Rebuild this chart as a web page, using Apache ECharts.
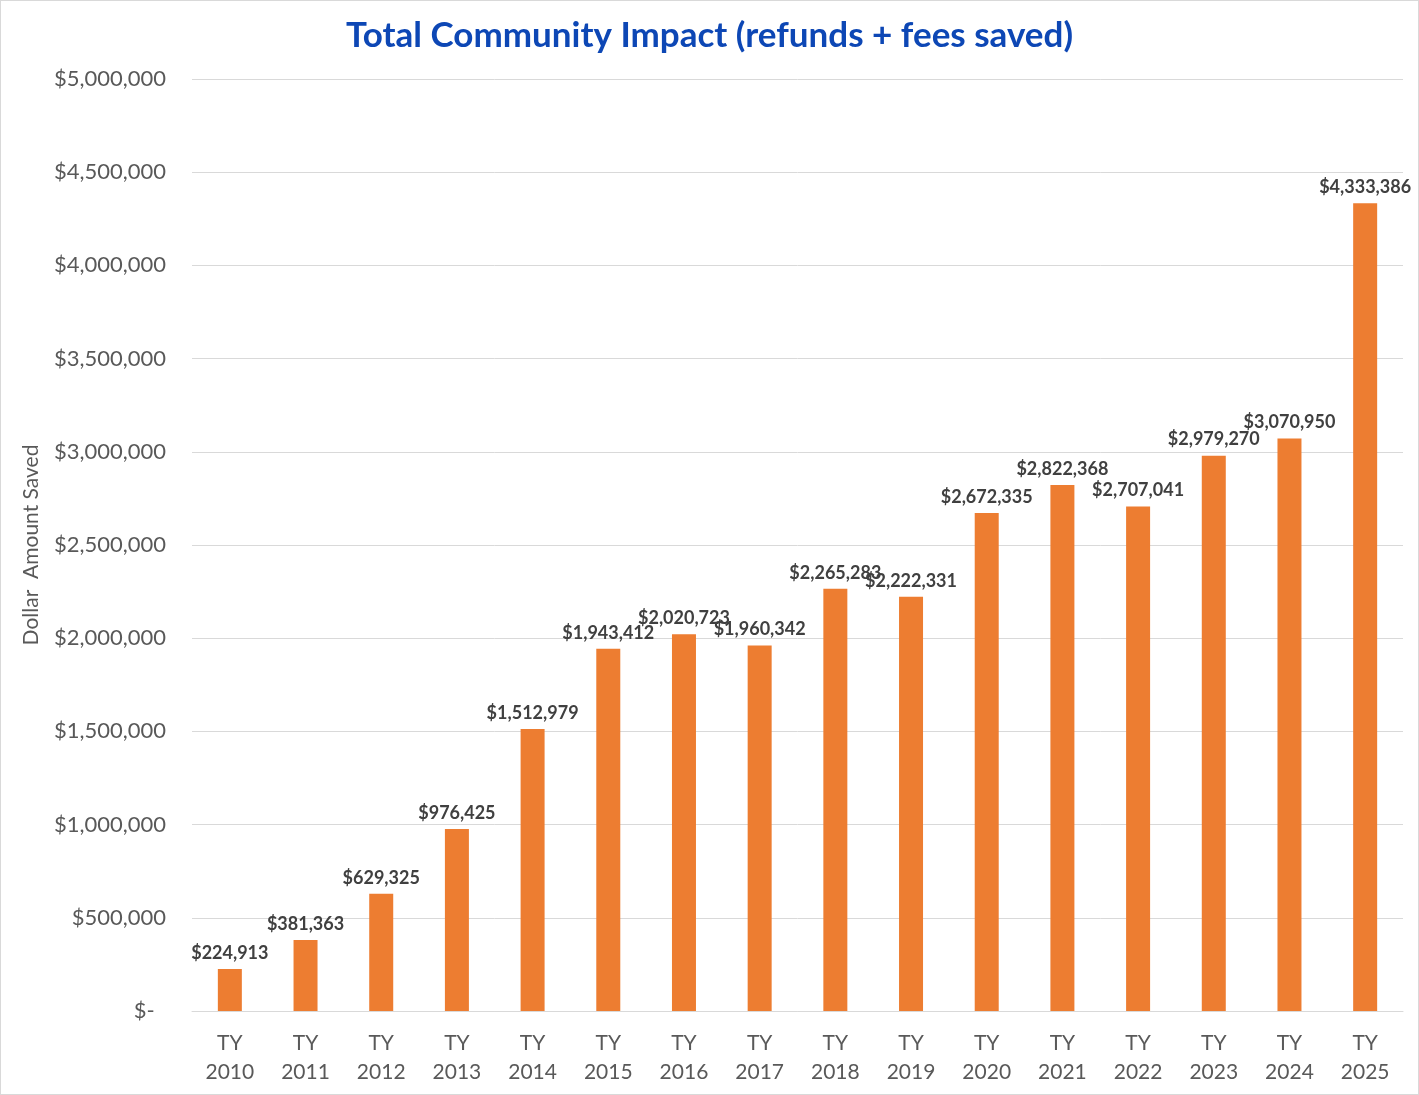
<!DOCTYPE html>
<html>
<head>
<meta charset="utf-8">
<script src="https://cdn.jsdelivr.net/npm/echarts@6/dist/echarts.min.js"></script>
<style>
  html, body { margin: 0; padding: 0; background: #fff; }
  #chart { width: 1419px; height: 1095px; box-sizing: border-box; border: 1px solid #d9d9d9; }
</style>
</head>
<body>
<div id="chart"></div>
<script>
var years = ['TY\n2010', 'TY\n2011', 'TY\n2012', 'TY\n2013', 'TY\n2014', 'TY\n2015', 'TY\n2016', 'TY\n2017',
             'TY\n2018', 'TY\n2019', 'TY\n2020', 'TY\n2021', 'TY\n2022', 'TY\n2023', 'TY\n2024', 'TY\n2025'];
var saved = [224913, 381363, 629325, 976425, 1512979, 1943412, 2020723, 1960342,
             2265283, 2222331, 2672335, 2822368, 2707041, 2979270, 3070950, 4333386];

function money(v) {
  return '$' + Math.round(v).toString().replace(/\B(?=(\d{3})+(?!\d))/g, ',');
}

var font = 'Lato, "Open Sans", sans-serif';

var chart = echarts.init(document.getElementById('chart'));
chart.setOption({
  animation: false,
  title: {
    text: 'Total Community Impact (refunds + fees saved)',
    left: 'center',
    top: 12,
    textStyle: { color: '#0D47B5', fontSize: 35, fontWeight: 'bold', fontFamily: font }
  },
  grid: { left: 191, right: 15, top: 78, bottom: 83 },
  xAxis: {
    type: 'category',
    data: years,
    axisLine: { lineStyle: { color: '#d9d9d9' } },
    axisTick: { show: false },
    axisLabel: { color: '#595959', fontSize: 21, fontFamily: font, lineHeight: 29, margin: 18 }
  },
  yAxis: {
    type: 'value',
    min: 0,
    max: 5000000,
    interval: 500000,
    name: 'Dollar  Amount Saved',
    nameLocation: 'middle',
    nameGap: 150,
    nameTextStyle: { color: '#595959', fontSize: 21, fontFamily: font },
    axisLine: { show: false },
    axisTick: { show: false },
    splitLine: { lineStyle: { color: '#d9d9d9' } },
    axisLabel: {
      color: '#595959', fontSize: 22, fontFamily: font, margin: 26,
      formatter: function (v) { return v === 0 ? '$-  ' : money(v); }
    }
  },
  series: [{
    type: 'bar',
    data: saved,
    barWidth: 24,
    itemStyle: { color: '#ED7D31' },
    label: {
      show: true,
      position: 'top',
      distance: 7,
      color: '#404040',
      fontSize: 18,
      fontWeight: 'bold',
      fontFamily: font,
      formatter: function (p) { return money(p.value); }
    }
  }]
});
</script>
</body>
</html>
